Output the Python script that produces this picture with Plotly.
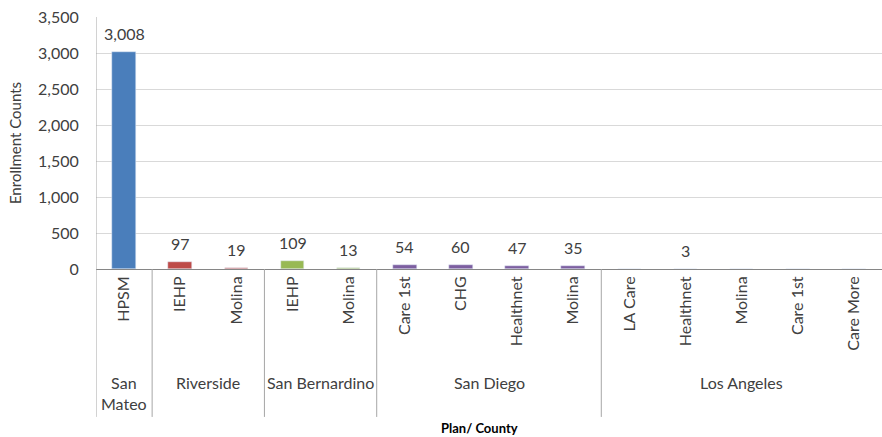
import plotly.graph_objects as go

counties = ["San Mateo", "Riverside", "San Bernardino", "San Diego", "Los Angeles"]
county_labels = ["San<br>Mateo", "Riverside", "San Bernardino", "San Diego", "Los Angeles"]
plans = [["HPSM"], ["IEHP", "Molina"], ["IEHP", "Molina"],
         ["Care 1st", "CHG", "Healthnet", "Molina"],
         ["LA Care", "Healthnet", "Molina", "Care 1st", "Care More"]]
values = [[3008], [97, 19], [109, 13], [54, 60, 47, 35], [None, 3, None, None, None]]
colors = ["#4A7EBB", "#BE4B48", "#98B954", "#7D5FA0", "#4BACC6"]

y_ticks = [0, 500, 1000, 1500, 2000, 2500, 3000, 3500]
y_max = 3500

FONT = "Lato"
TXT = "#404040"

fig = go.Figure()
xs, names = [], []
annotations = []
shapes = []
idx = 0
bounds = [-0.5]
for ci, county in enumerate(counties):
    gx = []
    for p, v in zip(plans[ci], values[ci]):
        xs.append(idx)
        names.append(p)
        gx.append(idx)
        fig.add_trace(go.Bar(x=[idx], y=[v if v is not None else 0], marker_color=colors[ci],
                             width=0.42, showlegend=False, hoverinfo="skip"))
        if v is not None:
            annotations.append(dict(x=idx, y=v, xref="x", yref="y", text=f"{v:,}",
                                    showarrow=False, yanchor="bottom", yshift=7,
                                    font=dict(family=FONT, size=16, color=TXT)))
        idx += 1
    bounds.append(idx - 0.5)
    center = (gx[0] + gx[-1]) / 2
    annotations.append(dict(x=center, y=-0.405, xref="paper" if False else "x", yref="paper",
                            text=county_labels[ci], showarrow=False, yanchor="top",
                            font=dict(family=FONT, size=16, color=TXT)))

for b in bounds[:-1]:
    shapes.append(dict(type="line", xref="x", yref="paper", x0=b, x1=b, y0=0, y1=-0.587,
                       line=dict(color="#A6A6A6", width=1)))
shapes.append(dict(type="line", xref="x", yref="paper", x0=-0.5, x1=-0.5, y0=0, y1=1,
                   line=dict(color="#A6A6A6", width=1)))

annotations.append(dict(x=0.488, y=-0.631, xref="paper", yref="paper", text="<b>Plan/ County</b>",
                        showarrow=False, yanchor="middle",
                        font=dict(family=FONT, size=13, color="#000000")))

fig.update_layout(
    width=882, height=437,
    margin=dict(l=96, r=0, t=17, b=168),
    paper_bgcolor="white", plot_bgcolor="white",
    bargap=0,
    annotations=annotations, shapes=shapes,
    font=dict(family=FONT, color=TXT),
)
fig.update_xaxes(range=[-0.5, idx - 0.5], tickmode="array", tickvals=xs, ticktext=names,
                 tickangle=-90, tickfont=dict(family=FONT, size=16, color=TXT),
                 showgrid=False, showline=True, linecolor="#868686", linewidth=1,
                 ticks="", ticklen=0, zeroline=False)
fig.update_yaxes(range=[0, y_max], tickmode="array", tickvals=y_ticks,
                 ticktext=[f"{t:,}" for t in y_ticks],
                 tickfont=dict(family=FONT, size=16, color=TXT),
                 showgrid=True, gridcolor="#D9D9D9", gridwidth=1, zeroline=False,
                 showline=False, ticks="outside", ticklen=13, tickcolor="white",
                 title=dict(text="Enrollment Counts", font=dict(family=FONT, size=15, color=TXT),
                            standoff=12))

fig.write_html("out.html")
